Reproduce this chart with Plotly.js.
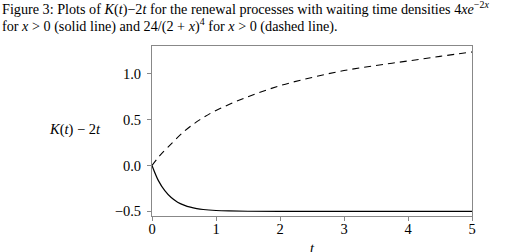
<!DOCTYPE html>
<html><head><meta charset="utf-8">
<script src="https://cdn.plot.ly/plotly-3.0.1.min.js"></script>
<style>html,body{margin:0;padding:0;background:#fff}#chart{width:521px;height:252px}</style>
</head><body><div id="chart"></div>
<script>
// Solid line: waiting time density 4x e^{-2x}
const tSolid = [0, 0.1, 0.2, 0.3, 0.4, 0.5, 0.6, 0.7, 0.8, 1.0, 1.2, 1.5, 2, 3, 4, 5];
const kSolid = [0, -0.165, -0.275, -0.35, -0.40, -0.432, -0.455, -0.47, -0.48, -0.491, -0.496, -0.499, -0.5, -0.5, -0.5, -0.5];
// Dashed line: waiting time density 24/(2+x)^4
const tDashed = [0, 0.1, 0.25, 0.5, 0.75, 1, 1.5, 2, 2.5, 3, 3.5, 4, 4.5, 5];
const kDashed = [0, 0.09, 0.2, 0.37, 0.5, 0.6, 0.75, 0.87, 0.96, 1.035, 1.09, 1.14, 1.19, 1.238];
const xTicks = [0, 1, 2, 3, 4, 5];
const yTicks = [-0.5, 0, 0.5, 1.0];
const captionLines = [
  'Figure 3: Plots of <i>K</i>(<i>t</i>)\u22122<i>t</i> for the renewal processes with waiting time densities 4<i>xe</i><sup>\u22122<i>x</i></sup>',
  'for <i>x</i> > 0 (solid line) and 24/(2 + <i>x</i>)<sup>4</sup> for <i>x</i> > 0 (dashed line).'
];

const FONT = "'Liberation Serif', 'DejaVu Serif', serif";
const data = [
  {x: tSolid, y: kSolid, mode: 'lines', line: {color: '#000', width: 1.2, shape: 'spline'}, showlegend: false},
  {x: tDashed, y: kDashed, mode: 'lines', line: {color: '#000', width: 1.1, dash: '7px,5px', shape: 'spline'}, showlegend: false}
];
const axisCommon = {
  showline: true, mirror: true, linecolor: '#888', linewidth: 1,
  ticks: 'outside', ticklen: 4, tickcolor: '#888', tickwidth: 1,
  showgrid: false, zeroline: false,
  tickfont: {family: FONT, size: 14.5, color: '#000'}
};
const PL = 152.3, PW = 320, PT = 46.3, PH = 169.7;
const px2x = px => (px - PL) / PW;
const px2y = py => 1 - (py - PT) / PH;
const annotations = [
  {xref: 'paper', yref: 'paper', x: px2x(75), y: px2y(130), xanchor: 'center', yanchor: 'middle', showarrow: false,
   text: '<i>K</i>(<i>t</i>) \u2212 2<i>t</i>', font: {family: FONT, size: 14.5, color: '#000'}},
  {xref: 'paper', yref: 'paper', x: px2x(312.7), y: px2y(248), xanchor: 'center', yanchor: 'middle', showarrow: false,
   text: '<i>t</i>', font: {family: FONT, size: 14.5, color: '#000'}}
];
captionLines.forEach((txt, i) => annotations.push({
  xref: 'paper', yref: 'paper', x: px2x(0), y: px2y(9 + 17 * i), xanchor: 'left', yanchor: 'middle', showarrow: false,
  align: 'left', text: txt, font: {family: FONT, size: 14.2, color: '#000'}
}));
const layout = {
  width: 521, height: 252,
  margin: {l: 152, r: 49, t: 46, b: 36},
  paper_bgcolor: '#fff', plot_bgcolor: '#fff',
  font: {family: FONT, color: '#000'},
  xaxis: Object.assign({}, axisCommon, {range: [0, 5], tickvals: xTicks, ticktext: xTicks.map(String), ticklabelstandoff: -4}),
  yaxis: Object.assign({}, axisCommon, {range: [-0.551, 1.303], tickvals: yTicks, ticktext: yTicks.map(v => (v < 0 ? '\u2212' : '') + Math.abs(v).toFixed(1)), ticklabelstandoff: 3}),
  annotations: annotations
};
Plotly.newPlot('chart', data, layout, {staticPlot: true, displayModeBar: false});
</script>
</body></html>
